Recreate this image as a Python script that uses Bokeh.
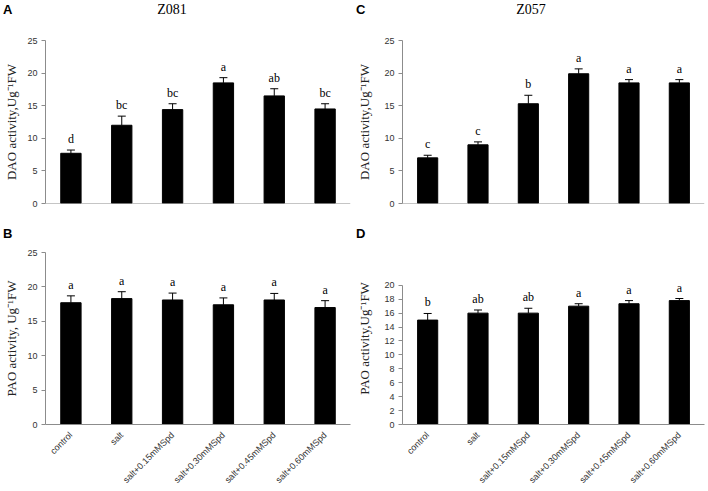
import math
from bokeh.plotting import figure
from bokeh.layouts import column, row
from bokeh.models import (ColumnDataSource, Whisker, TeeHead, LabelSet, Span, Div,
                          FactorRange, Range1d, FixedTicker)
from bokeh.embed import file_html
from bokeh.resources import INLINE

categories = ["control", "salt", "salt+0.15mMSpd", "salt+0.30mMSpd",
              "salt+0.45mMSpd", "salt+0.60mMSpd"]

# Panel A: Z081 DAO
dao_z081 = [7.7, 12.0, 14.4, 18.5, 16.5, 14.5]
dao_z081_err = [0.5, 1.4, 0.9, 0.8, 1.1, 0.8]
dao_z081_sig = ["d", "bc", "bc", "a", "ab", "bc"]

# Panel B: Z081 PAO
pao_z081 = [17.7, 18.3, 18.1, 17.4, 18.1, 17.0]
pao_z081_err = [1.0, 1.0, 1.0, 1.0, 0.95, 1.0]
pao_z081_sig = ["a", "a", "a", "a", "a", "a"]

# Panel C: Z057 DAO
dao_z057 = [7.0, 9.0, 15.3, 19.9, 18.5, 18.5]
dao_z057_err = [0.4, 0.45, 1.3, 0.75, 0.5, 0.5]
dao_z057_sig = ["c", "c", "b", "a", "a", "a"]

# Panel D: Z057 PAO
pao_z057 = [15.0, 16.0, 16.0, 17.0, 17.35, 17.8]
pao_z057_err = [0.95, 0.45, 0.7, 0.35, 0.45, 0.3]
pao_z057_sig = ["b", "ab", "ab", "a", "a", "a"]

ticks_25 = [0, 5, 10, 15, 20, 25]
ticks_20 = [0, 2, 4, 6, 8, 10, 12, 14, 16, 18, 20]

titles = ["Z081", "Z057"]
panel_letters = ["A", "B", "C", "D"]

AXIS_GRAY = "#8c8c8c"


def make_panel(vals, errs, sigs, ylabel, ticks, yend, width, height, borders,
               show_x, label_standoff=6):
    p = figure(width=width, height=height, output_backend="svg", toolbar_location=None,
               x_range=FactorRange(factors=categories, range_padding=0),
               y_range=Range1d(0, yend),
               x_axis_location="below" if show_x else None,
               min_border_left=borders[0], min_border_right=borders[1],
               min_border_top=borders[2], min_border_bottom=borders[3])
    p.outline_line_color = None
    p.xgrid.visible = False
    p.ygrid.visible = False
    p.background_fill_color = "white"
    p.border_fill_color = "white"

    src = ColumnDataSource(dict(cat=categories, val=vals,
                                top=[v + e for v, e in zip(vals, errs)], sig=sigs))
    p.vbar(x="cat", top="val", width=0.4, source=src, fill_color="black",
           line_color="black", line_width=1)
    w = Whisker(source=src, base="cat", lower="val", upper="top",
                lower_head=None, upper_head=TeeHead(size=8, line_color="black", line_width=1),
                line_color="black", line_width=1, level="overlay")
    p.add_layout(w)
    ls = LabelSet(source=src, x="cat", y="top", text="sig", y_offset=4,
                  text_align="center", text_baseline="bottom",
                  text_font="Liberation Serif", text_font_size="12px", text_color="black")
    p.add_layout(ls)

    ya = p.yaxis[0]
    ya.ticker = FixedTicker(ticks=ticks)
    ya.bounds = (ticks[0], ticks[-1])
    ya.axis_line_color = AXIS_GRAY
    ya.major_tick_line_color = AXIS_GRAY
    ya.major_tick_out = 4
    ya.major_tick_in = 0
    ya.minor_tick_line_color = None
    ya.major_label_standoff = 4
    ya.major_label_text_font = "Liberation Sans"
    ya.major_label_text_font_size = "9px"
    ya.major_label_text_color = "#333333"
    ya.axis_label = ylabel
    ya.axis_label_text_font = "Liberation Serif"
    ya.axis_label_text_font_style = "normal"
    ya.axis_label_text_font_size = "13px"
    ya.axis_label_text_color = "#222222"
    ya.axis_label_standoff = label_standoff

    if show_x:
        xa = p.xaxis[0]
        xa.axis_line_color = AXIS_GRAY
        xa.major_tick_line_color = None
        xa.minor_tick_line_color = None
        xa.major_label_orientation = math.pi / 4
        xa.major_label_standoff = 3
        xa.major_label_text_font = "Liberation Sans"
        xa.major_label_text_font_size = "9px"
        xa.major_label_text_color = "#333333"
    else:
        p.add_layout(Span(location=0, dimension="width", line_color=AXIS_GRAY, line_width=1))
    return p


def letter_span(txt, left, top):
    return (f'<span style="position:absolute;left:{left}px;top:{top}px;'
            f'font-family:\'Liberation Sans\';font-weight:bold;font-size:13px;'
            f'line-height:13px;color:#000;">{txt}</span>')


def title_span(txt, center, top):
    return (f'<span style="position:absolute;left:{center - 50}px;top:{top}px;width:100px;'
            f'text-align:center;font-family:\'Liberation Serif\';font-size:14px;'
            f'line-height:14px;color:#000;">{txt}</span>')


top_html = ('<div style="position:relative;width:708px;height:18px;">'
            + letter_span(panel_letters[0], 3, 3) + title_span(titles[0], 172, 3)
            + letter_span(panel_letters[2], 356, 3) + title_span(titles[1], 531, 3)
            + '</div>')
mid_html = ('<div style="position:relative;width:708px;height:15px;">'
            + letter_span(panel_letters[1], 3, 2) + letter_span(panel_letters[3], 356, 2)
            + '</div>')

div_top = Div(text=top_html, width=708, height=18, margin=0)
div_mid = Div(text=mid_html, width=708, height=15, margin=0)

pa = make_panel(dao_z081, dao_z081_err, dao_z081_sig, "DAO activity,Ug\u207b\u00b9FW", ticks_25, 25,
                354, 207, (45, 4, 22, 22), False, 5)
pc = make_panel(dao_z057, dao_z057_err, dao_z057_sig, "DAO activity,Ug\u207b\u00b9FW", ticks_25, 25,
                354, 207, (48, 4, 22, 22), False, 9)
pb = make_panel(pao_z081, pao_z081_err, pao_z081_sig, "PAO activity, Ug\u207b\u00b9FW", ticks_25, 25,
                354, 251, (45, 4, 12, 66), True, 5)
pd_ = make_panel(pao_z057, pao_z057_err, pao_z057_sig, "PAO activity,Ug\u207b\u00b9FW", ticks_20, 24.71,
                 354, 251, (48, 4, 12, 66), True, 9)

layout = column(div_top, row(pa, pc), div_mid, row(pb, pd_))

open("out.html", "w").write(file_html(layout, INLINE))
